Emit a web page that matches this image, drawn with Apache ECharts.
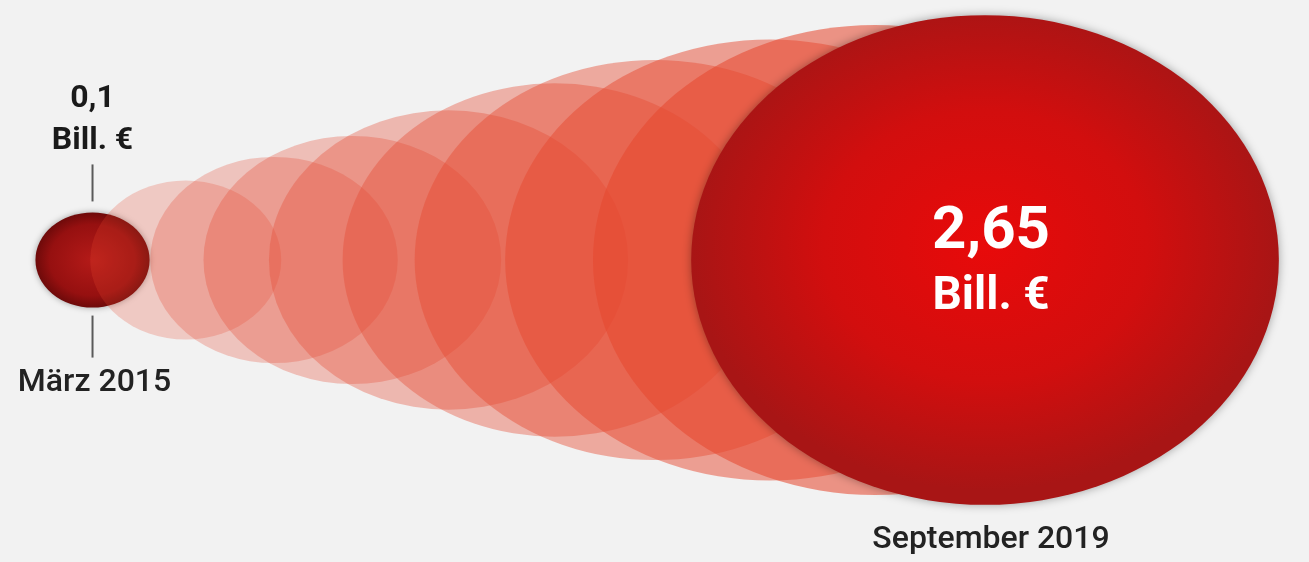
<!DOCTYPE html>
<html>
<head>
<meta charset="utf-8">
<script src="https://cdn.jsdelivr.net/npm/echarts@6/dist/echarts.min.js"></script>
<style>
  html, body { margin: 0; padding: 0; background: #f2f2f2; }
  #chart { width: 1309px; height: 562px; }
</style>
</head>
<body>
<div id="chart"></div>
<script>
// ---- data ----
const dateLabels  = ['März 2015', '', '', '', '', '', '', '', '', 'September 2019'];
const values      = [0.1, 0.28, 0.47, 0.68, 0.99, 1.38, 1.77, 2.15, 2.44, 2.65]; // Bill. €
const valueLabels = ['0,1', '', '', '', '', '', '', '', '', '2,65'];
const unitLabel   = 'Bill. €';
const xSteps      = [0, 0.94, 1.83, 2.62, 3.59, 4.66, 5.67, 6.83, 7.89, 9];

// ---- presentation ----
const FONT = 'Roboto, "Noto Sans", sans-serif';
const SIZE_K = 361;        // px width per sqrt(value)
const ASPECT = 1.2;        // ellipse width / height
function sizeOf(v) {
  const w = SIZE_K * Math.sqrt(v);
  return [w, w / ASPECT];
}
const last = values.length - 1;
const fadeOpacity = [1, 0.24, 0.27, 0.3, 0.34, 0.38, 0.43, 0.49, 0.56, 1];

function bubbleStyle(i) {
  if (i === 0) {
    return {
      opacity: 1,
      color: { type: 'radial', x: 0.5, y: 0.5, r: 0.5,
        colorStops: [{ offset: 0, color: '#b41a18' }, { offset: 0.75, color: '#961010' }, { offset: 1, color: '#6e0a0a' }] },
      shadowBlur: 6, shadowColor: 'rgba(0,0,0,0.35)'
    };
  }
  if (i === last) {
    return {
      opacity: 1,
      color: { type: 'radial', x: 0.5, y: 0.47, r: 0.5,
        colorStops: [{ offset: 0, color: '#e80a0a' }, { offset: 0.55, color: '#d20e0e' }, { offset: 1, color: '#a81515' }] },
      shadowBlur: 10, shadowColor: 'rgba(0,0,0,0.35)'
    };
  }
  return { color: '#e6472f', opacity: fadeOpacity[i] };
}

const bubbleData = values.map((v, i) => {
  const item = { value: [xSteps[i], 0, v], itemStyle: bubbleStyle(i) };
  if (i === 0) {
    item.label = {
      show: true, position: 'top', distance: 50,
      formatter: valueLabels[i] + '\n' + unitLabel,
      fontFamily: FONT, fontWeight: 'bold', fontSize: 32, lineHeight: 42,
      color: '#1a1a1a', align: 'center'
    };
  } else if (i === last) {
    item.label = {
      show: true, position: 'inside', offset: [6, 4],
      formatter: '{a|' + valueLabels[i] + '}\n{b|' + unitLabel + '}',
      rich: {
        a: { fontFamily: FONT, fontWeight: 'bold', fontSize: 60, lineHeight: 66, color: '#ffffff', align: 'center' },
        b: { fontFamily: FONT, fontWeight: 'bold', fontSize: 46, lineHeight: 62, color: '#ffffff', align: 'center' }
      }
    };
  }
  return item;
});

const dateData = values.map((v, i) => ({
  value: [xSteps[i], 0, v],
  label: {
    show: dateLabels[i] !== '', position: 'bottom',
    distance: i === 0 ? 57 : 17,
    offset: i === last ? [6, 0] : [2, 0],
    formatter: dateLabels[i],
    fontFamily: FONT, fontWeight: 500, fontSize: 32, lineHeight: 36, color: '#222222'
  }
}));

const chart = echarts.init(document.getElementById('chart'), null, { renderer: 'canvas' });
chart.setOption({
  backgroundColor: '#f2f2f2',
  animation: false,
  grid: { left: 0, right: 0, top: 0, bottom: 42 },
  xAxis: { type: 'value', min: -0.933, max: 12.267, show: false },
  yAxis: { type: 'value', min: -1, max: 1, show: false },
  series: [
    {
      type: 'custom',
      silent: true,
      data: [[xSteps[0], 0, values[0]]],
      renderItem: function (params, api) {
        const p = api.coord([api.value(0), api.value(1)]);
        const hh = sizeOf(api.value(2))[1] / 2;
        const style = { stroke: '#5a5a5a', lineWidth: 2 };
        return {
          type: 'group',
          children: [
            { type: 'line', shape: { x1: p[0], y1: p[1] - hh - 11, x2: p[0], y2: p[1] - hh - 48 }, style: style },
            { type: 'line', shape: { x1: p[0], y1: p[1] + hh + 8, x2: p[0], y2: p[1] + hh + 50 }, style: style }
          ]
        };
      }
    },
    {
      type: 'scatter',
      name: 'Volumen',
      data: bubbleData,
      symbol: 'circle',
      symbolSize: function (val) { return sizeOf(val[2]); },
      z: 3
    },
    {
      type: 'scatter',
      name: 'Datum',
      data: dateData,
      symbol: 'circle',
      symbolSize: function (val) { return sizeOf(val[2]); },
      itemStyle: { color: 'rgba(0,0,0,0)', opacity: 1 },
      silent: true,
      z: 4
    }
  ]
});
</script>
</body>
</html>
